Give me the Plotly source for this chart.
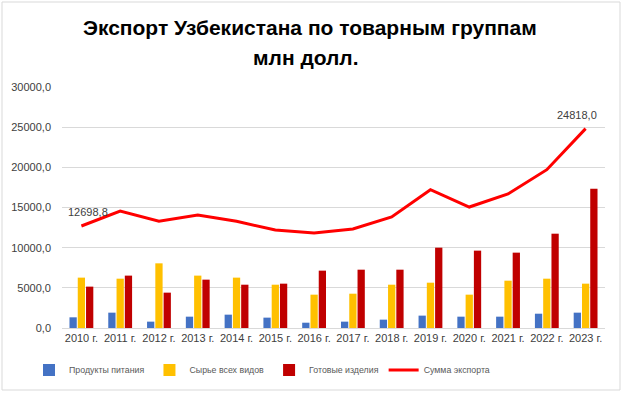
import plotly.graph_objects as go

years = ["2010 г.", "2011 г.", "2012 г.", "2013 г.", "2014 г.", "2015 г.", "2016 г.",
         "2017 г.", "2018 г.", "2019 г.", "2020 г.", "2021 г.", "2022 г.", "2023 г."]
food = [1330, 1910, 790, 1410, 1660, 1290, 660, 790, 1040, 1540, 1410, 1410, 1780, 1910]
raw = [6270, 6140, 8050, 6520, 6270, 5390, 4150, 4270, 5390, 5640, 4150, 5890, 6140, 5520]
finished = [5150, 6520, 4400, 6020, 5390, 5520, 7140, 7260, 7260, 10000, 9630, 9380, 11740, 17340]
total = [12698.8, 14560, 13280, 14070, 13280, 12200, 11830, 12320, 13820, 17220, 15060, 16680, 19710, 24818.0]

names = ["Продукты питания", "Сырье всех видов", "Готовые изделия", "Сумма экспорта"]
colors = ["#4472C4", "#FFC000", "#C00000", "#FF0000"]
title_lines = ["Экспорт Узбекистана по товарным группам", "млн долл."]

fig = go.Figure()
for vals, nm, c in zip([food, raw, finished], names[:3], colors[:3]):
    fig.add_trace(go.Bar(x=years, y=vals, name=nm, marker_color=c, marker_line_width=0))
fig.add_trace(go.Scatter(x=years, y=total, name=names[3], mode="lines",
                         line=dict(color=colors[3], width=3)))

def fmt(v):
    return f"{v:.1f}".replace(".", ",")

annotations = [
    dict(x=years[0], y=total[0], text=fmt(total[0]), showarrow=False,
         xshift=7, yshift=14, font=dict(size=11, color="#404040")),
    dict(x=years[-1], y=total[-1], text=fmt(total[-1]), showarrow=False,
         xshift=-9, yshift=14, font=dict(size=11, color="#404040")),
    dict(xref="paper", yref="paper", x=(310 - 62) / 543, y=(328 - 28) / 241,
         text="<b>" + title_lines[0] + "</b>", showarrow=False,
         xanchor="center", yanchor="middle",
         font=dict(size=21, color="black", family="Liberation Sans")),
    dict(xref="paper", yref="paper", x=(306 - 62) / 543, y=(328 - 57) / 241,
         text="<b>" + title_lines[1] + "</b>", showarrow=False,
         xanchor="center", yanchor="middle",
         font=dict(size=21, color="black", family="Liberation Sans")),
]

fig.update_layout(
    width=623, height=393,
    margin=dict(l=62, r=18, t=87, b=65, autoexpand=False),
    paper_bgcolor="white", plot_bgcolor="white",
    separators=", ",
    barmode="group", bargap=0.36, bargroupgap=0.12,
    font=dict(family="Liberation Sans", size=11, color="#404040"),
    annotations=annotations,
    showlegend=True,
    legend=dict(orientation="h", x=(262 - 62) / 543, xanchor="center",
                y=-42 / 241, yanchor="middle",
                font=dict(size=8.8, color="#595959"), itemwidth=30, traceorder="normal"),
    shapes=[dict(type="rect", xref="paper", yref="paper",
                 x0=-60 / 543, x1=1 + 15 / 543, y0=-62 / 241, y1=1 + 85 / 241,
                 line=dict(color="#D9D9D9", width=1))],
)
fig.update_yaxes(range=[0, 30000], dtick=5000, tickformat=".1f", showgrid=True,
                 gridcolor="#D9D9D9", zeroline=False, showline=False, ticks="",
                 ticklabelstandoff=10,
                 tickfont=dict(size=11, color="#404040"))
fig.update_xaxes(showline=True, linecolor="#D9D9D9", ticks="",
                 tickfont=dict(size=11, color="#404040"))

fig.write_html("out.html", config={"displayModeBar": False},
               post_script="document.body.style.margin='0';")
